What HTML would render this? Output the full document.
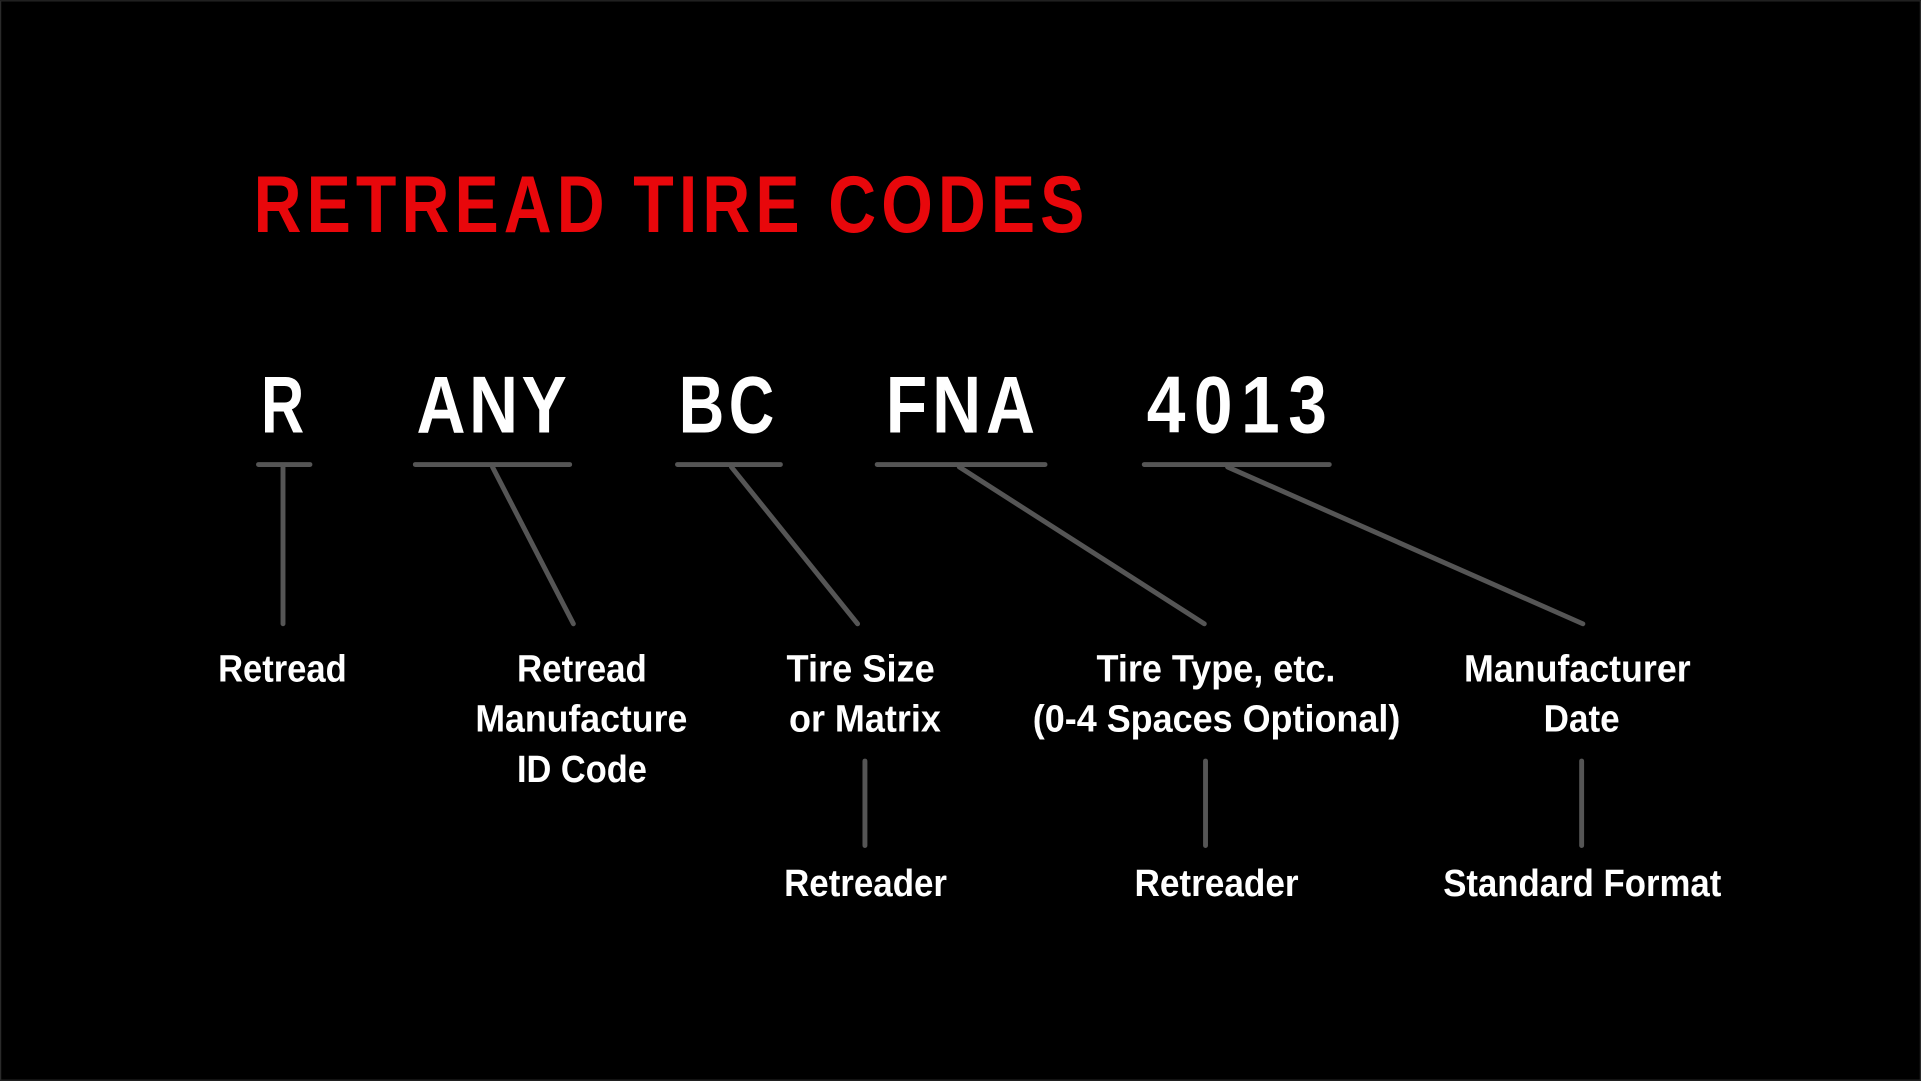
<!DOCTYPE html>
<html><head><meta charset="utf-8"><style>
html,body{margin:0;padding:0;background:#000;}
svg{display:block;}
text{font-family:"Liberation Sans Narrow","Liberation Sans",sans-serif;font-weight:bold;}
</style></head><body>
<svg width="1921" height="1081" viewBox="0 0 1568 882" xmlns="http://www.w3.org/2000/svg">
<rect x="0" y="0" width="1568" height="882" fill="#000"/>
<rect x="0.5" y="0.5" width="1567" height="881" fill="none" stroke="#2a2a2a" stroke-width="1"/>
<text transform="translate(207,189) scale(0.82,1)" x="0" y="0" font-size="66" fill="#e8070b" textLength="827" lengthAdjust="spacing">RETREAD TIRE CODES</text>
<g fill="#fff" font-size="66">
<text transform="translate(213,353) scale(0.86,1)" x="0" y="0" textLength="41" lengthAdjust="spacingAndGlyphs">R</text>
<text transform="translate(340,353) scale(0.84,1)" x="0" y="0" textLength="146" lengthAdjust="spacing">ANY</text>
<text transform="translate(554,353) scale(0.78,1)" x="0" y="0" textLength="100" lengthAdjust="spacing">BC</text>
<text transform="translate(723,353) scale(0.84,1)" x="0" y="0" textLength="145" lengthAdjust="spacing">FNA</text>
<text transform="translate(936,353) scale(0.86,1)" x="0" y="0" textLength="171" lengthAdjust="spacing">4013</text>
</g>
<g stroke="#555" stroke-width="4" stroke-linecap="round" fill="none">
<line x1="211" y1="379" x2="253" y2="379"/>
<line x1="339" y1="379" x2="465" y2="379"/>
<line x1="553" y1="379" x2="637" y2="379"/>
<line x1="716" y1="379" x2="853" y2="379"/>
<line x1="934" y1="379" x2="1085" y2="379"/>
<line x1="231" y1="381" x2="231" y2="509"/>
<line x1="402" y1="381" x2="468" y2="509"/>
<line x1="597" y1="381" x2="700" y2="509"/>
<line x1="783" y1="381" x2="983" y2="509"/>
<line x1="1002" y1="381" x2="1292" y2="509"/>
<line x1="706" y1="621" x2="706" y2="690"/>
<line x1="984" y1="621" x2="984" y2="690"/>
<line x1="1291" y1="621" x2="1291" y2="690"/>
</g>
<g fill="#fff" font-size="31">
<text x="178" y="556" textLength="105" lengthAdjust="spacingAndGlyphs">Retread</text>
<text x="422" y="556" textLength="106" lengthAdjust="spacingAndGlyphs">Retread</text>
<text x="388" y="597" textLength="173" lengthAdjust="spacingAndGlyphs">Manufacture</text>
<text x="422" y="638" textLength="106" lengthAdjust="spacingAndGlyphs">ID Code</text>
<text x="642" y="556" textLength="121" lengthAdjust="spacingAndGlyphs">Tire Size</text>
<text x="644" y="597" textLength="124" lengthAdjust="spacingAndGlyphs">or Matrix</text>
<text x="895" y="556" textLength="195" lengthAdjust="spacingAndGlyphs">Tire Type, etc.</text>
<text x="843" y="597" textLength="300" lengthAdjust="spacingAndGlyphs">(0-4 Spaces Optional)</text>
<text x="1195" y="556" textLength="185" lengthAdjust="spacingAndGlyphs">Manufacturer</text>
<text x="1260" y="597" textLength="62" lengthAdjust="spacingAndGlyphs">Date</text>
<text x="640" y="731" textLength="133" lengthAdjust="spacingAndGlyphs">Retreader</text>
<text x="926" y="731" textLength="134" lengthAdjust="spacingAndGlyphs">Retreader</text>
<text x="1178" y="731" textLength="227" lengthAdjust="spacingAndGlyphs">Standard Format</text>
</g>
</svg>
</body></html>
